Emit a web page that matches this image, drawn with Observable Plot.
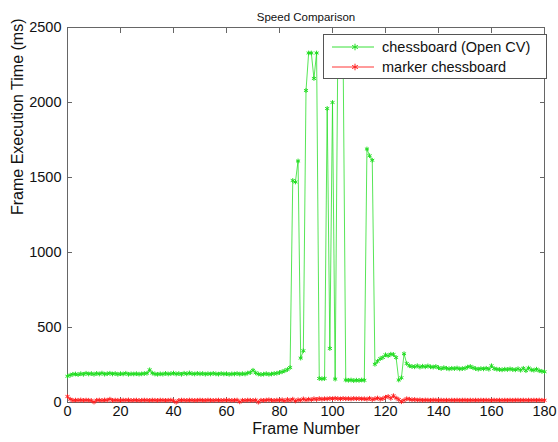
<!DOCTYPE html>
<html>
<head>
<meta charset="utf-8">
<script src="https://cdn.jsdelivr.net/npm/d3@7"></script>
<script src="https://cdn.jsdelivr.net/npm/@observablehq/plot@0.6"></script>
<style>
  html, body { margin: 0; padding: 0; background: #fff; }
  #wrap { position: relative; width: 558px; height: 442px; font-family: "Liberation Sans", Arial, sans-serif; }
  #legend { position: absolute; left: 323px; top: 34px; width: 222px; height: 43px; border: 1px solid #555; background: #fff; font-size: 14.5px; color: #111; }
  .row { position: absolute; left: 6px; height: 20px; display: flex; align-items: center; }
  .row svg { margin-right: 6px; }
</style>
</head>
<body>
<div id="wrap">
  <div id="chart"></div>
  <div id="legend"></div>
</div>
<script>
const title = "Speed Comparison";
const xLabel = "Frame Number";
const yLabel = "Frame Execution Time (ms)";
const seriesNames = ["chessboard (Open CV)", "marker chessboard"];
const seriesColors = ["#22dd22", "#ff2020"];
const xTicks = [0, 20, 40, 60, 80, 100, 120, 140, 160, 180];
const yTicks = [0, 500, 1000, 1500, 2000, 2500];

// frame-by-frame execution times (ms), frames 0..180
const chessboardOpenCV = [
  175, 182, 188, 190, 186, 192, 188, 195, 190, 193,
  188, 194, 190, 196, 189, 192, 195, 190, 193, 188,
  192, 190, 195, 188, 191, 190, 192, 189, 191, 193,
  195, 218, 196, 190, 188, 191, 189, 194, 190, 192,
  196, 190, 193, 188, 195, 191, 197, 192, 190, 194,
  191, 193, 189, 192, 190, 194, 191, 189, 193, 190,
  192, 188, 191, 190, 193, 189, 192, 190, 196, 200,
  215, 198, 190, 187, 189, 192, 188, 190, 193, 195,
  200, 205, 212, 220, 233, 1480, 1470, 1610, 296, 345,
  2080, 2330, 2330, 2160, 2330, 160, 158, 160, 1960, 360,
  2000, 156, 2340, 2300, 2340, 150, 148, 150, 146, 149,
  147, 150, 148, 1690, 1645, 1615, 255, 275, 292, 300,
  318, 312, 322, 320, 300, 150, 165, 325, 260, 245,
  240, 238, 245, 236, 242, 238, 244, 238, 236, 240,
  232, 226, 232, 228, 224, 228, 226, 230, 224, 226,
  228, 236, 240, 232, 226, 222, 226, 224, 228, 222,
  245, 226, 222, 220, 218, 222, 220, 224, 220, 218,
  225, 215, 228, 212, 230, 218, 215, 222, 212, 208,
  205
];
const markerChessboard = [
  40, 22, 14, 16, 15, 17, 14, 16, 15, 13,
  3, 15, 16, 14, 17, 15, 22, 14, 16, 15,
  14, 16, 15, 17, 14, 15, 16, 14, 15, 16,
  15, 14, 16, 15, 14, 16, 15, 14, 15, 16,
  12, 2, 14, 16, 15, 14, 16, 15, 14, 15,
  16, 15, 14, 16, 15, 14, 15, 16, 14, 15,
  16, 15, 14, 15, 16, 4, 15, 14, 16, 15,
  14, 16, 2, 15, 14, 16, 18, 15, 14, 16,
  15, 18, 12, 20, 14, 22, 10, 18, 15, 24,
  16, 22, 18, 25, 20, 26, 22, 25, 24, 27,
  25, 28, 26, 24, 27, 25, 26, 24, 27, 25,
  26, 24, 25, 22, 28, 20, 25, 30, 22, 26,
  35, 40, 28, 45, 30, 20, 5, 15, 25, 22,
  18, 20, 16, 18, 15, 17, 16, 15, 17, 16,
  15, 16, 15, 16, 15, 16, 15, 16, 15, 16,
  16, 15, 16, 15, 16, 15, 16, 15, 16, 15,
  15, 16, 15, 16, 15, 16, 15, 16, 15, 16,
  16, 15, 16, 15, 16, 15, 16, 15, 16, 15,
  15
];

const rows = [];
chessboardOpenCV.forEach((v, i) => rows.push({frame: i, ms: v, series: seriesNames[0]}));
markerChessboard.forEach((v, i) => rows.push({frame: i, ms: v, series: seriesNames[1]}));

const chart = Plot.plot({
  width: 558,
  height: 442,
  marginLeft: 67,
  marginRight: 14,
  marginTop: 27,
  marginBottom: 40,
  style: {fontFamily: "'Liberation Sans', Arial, sans-serif", fontSize: "14.5px", color: "#111", background: "#fff"},
  x: {domain: [0, 180]},
  y: {domain: [0, 2500]},
  color: {domain: seriesNames, range: seriesColors},
  marks: [
    Plot.frame({stroke: "#666"}),
    Plot.axisX({ticks: xTicks, tickSize: -5, tickPadding: 8, tickFormat: d3.format("d"), label: null, stroke: "#666"}),
    Plot.axisX({anchor: "top", ticks: xTicks, tickSize: -5, tickFormat: () => "", label: null, stroke: "#666"}),
    Plot.axisY({ticks: yTicks, tickSize: -5, tickPadding: 11, tickFormat: d3.format("d"), label: null, stroke: "#666"}),
    Plot.axisY({anchor: "right", ticks: yTicks, tickSize: -5, tickFormat: () => "", label: null, stroke: "#666"}),
    Plot.line(rows, {x: "frame", y: "ms", z: "series", stroke: "series", strokeWidth: 0.9, strokeOpacity: 0.85}),
    Plot.dot(rows, {x: "frame", y: "ms", stroke: "series", symbol: "asterisk", r: 2.2, strokeWidth: 1}),
    Plot.text([title], {frameAnchor: "top", dy: -15, fontSize: 11.5}),
    Plot.text([xLabel], {frameAnchor: "bottom", dy: 31, fontSize: 16}),
    Plot.text([yLabel], {frameAnchor: "left", dx: -50, rotate: -90, fontSize: 16})
  ]
});
document.getElementById("chart").appendChild(chart);

// legend overlay
const legend = document.getElementById("legend");
seriesNames.forEach((name, i) => {
  const row = document.createElement("div");
  row.className = "row";
  row.style.top = (i === 0 ? 2 : 22) + "px";
  const sw = d3.create("svg").attr("width", 46).attr("height", 20);
  sw.append("line").attr("x1", 2).attr("x2", 44).attr("y1", 10).attr("y2", 10)
    .attr("stroke", seriesColors[i]).attr("stroke-width", 0.9);
  sw.append("path").attr("d", d3.symbol(d3.symbolAsterisk, 30)())
    .attr("transform", "translate(25,10)").attr("stroke", seriesColors[i]).attr("fill", "none");
  row.appendChild(sw.node());
  const t = document.createElement("span");
  t.textContent = name;
  row.appendChild(t);
  legend.appendChild(row);
});
</script>
</body>
</html>
